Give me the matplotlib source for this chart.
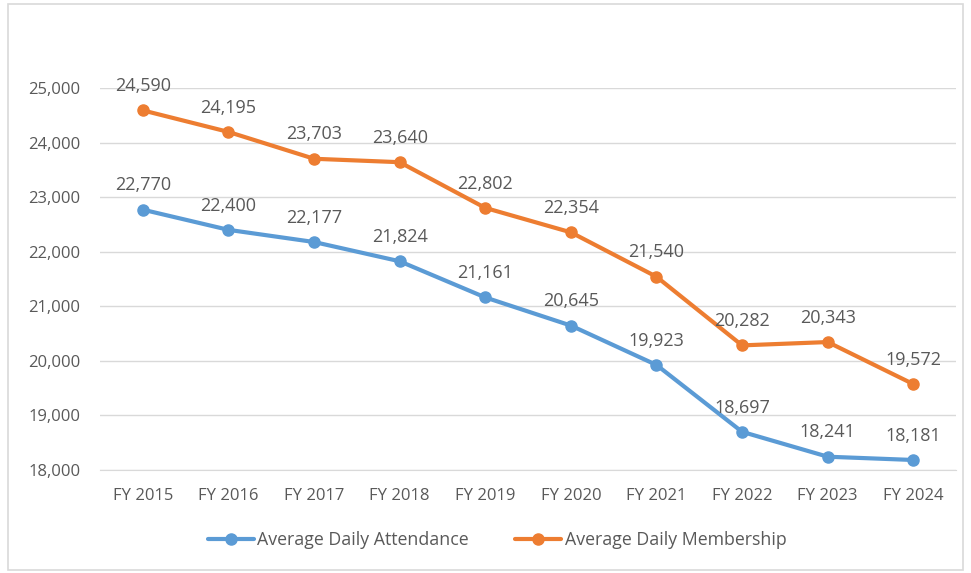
import matplotlib.pyplot as plt
from matplotlib.patches import Rectangle

years = ["FY 2015", "FY 2016", "FY 2017", "FY 2018", "FY 2019",
         "FY 2020", "FY 2021", "FY 2022", "FY 2023", "FY 2024"]
attendance = [22770, 22400, 22177, 21824, 21161, 20645, 19923, 18697, 18241, 18181]
membership = [24590, 24195, 23703, 23640, 22802, 22354, 21540, 20282, 20343, 19572]
yticks = [18000, 19000, 20000, 21000, 22000, 23000, 24000, 25000]

plt.rcParams['font.family'] = ['Open Sans', 'DejaVu Sans']
txt = "#595959"

fig = plt.figure(figsize=(9.71, 5.73), dpi=100)
ax = fig.add_axes([0.103, 0.18, 0.8817, 0.6664])

x = list(range(len(years)))
ax.plot(x, attendance, color="#5B9BD5", lw=3, marker="o", ms=8,
        label="Average Daily Attendance", solid_capstyle="round")
ax.plot(x, membership, color="#ED7D31", lw=3, marker="o", ms=8,
        label="Average Daily Membership", solid_capstyle="round")

for series in (attendance, membership):
    for i, v in zip(x, series):
        ax.annotate(f"{v:,}", (i, v), xytext=(0, 11), textcoords="offset points",
                    ha="center", va="bottom", fontsize=13, color=txt)

ax.set_xlim(-0.5, len(years) - 0.5)
ax.set_ylim(18000, 25000)
ax.set_xticks(x)
ax.set_xticklabels(years)
ax.set_yticks(yticks)
ax.set_yticklabels([f"{t:,}" for t in yticks])
ax.tick_params(axis="both", length=0, labelsize=12, labelcolor=txt)
ax.tick_params(axis="x", pad=13)
ax.tick_params(axis="y", pad=14)
ax.grid(axis="y", color="#D9D9D9", lw=1)
ax.set_axisbelow(True)
for s in ["top", "right", "left"]:
    ax.spines[s].set_visible(False)
ax.spines["bottom"].set_color("#D9D9D9")

leg = fig.legend(loc="center", bbox_to_anchor=(0.512, 0.057), ncol=2, frameon=False,
                 fontsize=12.8, handlelength=2.6, handletextpad=0.2, columnspacing=2.6)
for t in leg.get_texts():
    t.set_color(txt)

fig.patches.append(Rectangle((8 / 971, 3 / 573), 955 / 971, 566 / 573,
                             transform=fig.transFigure, fill=False,
                             edgecolor="#D9D9D9", lw=1.2))

fig.savefig("out.png", dpi=100)
